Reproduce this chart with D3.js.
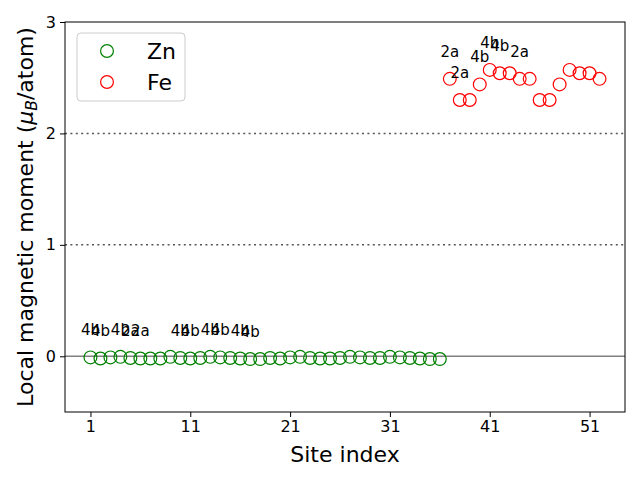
<!DOCTYPE html>
<html>
<head>
<meta charset="utf-8">
<script src="https://cdn.jsdelivr.net/npm/d3@7"></script>
<style>
  body { margin: 0; background: #fff; }
  text { font-family: "DejaVu Sans", sans-serif; }
</style>
</head>
<body>
<svg id="chart" width="640" height="480"></svg>
<script>
// ---- data ----
const znSites = d3.range(1, 37);
const znValues = [-0.01, -0.02, -0.01, -0.005, -0.015, -0.02, -0.02, -0.02, -0.005, -0.015,
  -0.02, -0.015, -0.005, -0.01, -0.015, -0.02, -0.025, -0.025, -0.015, -0.02,
  -0.01, -0.005, -0.015, -0.02, -0.02, -0.015, -0.005, -0.01, -0.015, -0.015,
  -0.005, -0.01, -0.015, -0.02, -0.025, -0.025];
const feSites = d3.range(37, 53);
const feValues = [2.49, 2.30, 2.30, 2.44, 2.57, 2.54, 2.54, 2.49,
  2.49, 2.30, 2.30, 2.44, 2.57, 2.54, 2.54, 2.49];
const labelSites = [1, 2, 4, 5, 6, 10, 11, 13, 14, 16, 17, 37, 38, 40, 41, 42, 44];
const labelTexts = ["4b", "4b", "4b", "2a", "2a", "4b", "4b", "4b", "4b", "4b", "4b",
  "2a", "2a", "4b", "4b", "4b", "2a"];
const xTicks = [1, 11, 21, 31, 41, 51];
const yTicks = [0, 1, 2, 3];
const refLines = [1, 2];
const seriesNames = ["Zn", "Fe"];
const seriesColors = ["green", "red"];

// ---- layout ----
const svg = d3.select("#chart");
const L = 65, R = 625, T = 22, B = 412;
const x = d3.scaleLinear().domain([-1.55, 54.55]).range([L, R]);
const y = d3.scaleLinear().domain([-0.5, 3]).range([B, T]);

const allVal = {};
znSites.forEach((s, i) => allVal[s] = znValues[i]);
feSites.forEach((s, i) => allVal[s] = feValues[i]);

// reference lines
svg.selectAll(".ref").data(refLines).enter().append("line")
  .attr("x1", L).attr("x2", R)
  .attr("y1", d => y(d)).attr("y2", d => y(d))
  .attr("stroke", "#555").attr("stroke-width", 1.5)
  .attr("stroke-dasharray", "2,3.4");
svg.append("line")
  .attr("x1", L).attr("x2", R).attr("y1", y(0)).attr("y2", y(0))
  .attr("stroke", "gray").attr("stroke-width", 1.5);

// points
const r = 6.4;
svg.selectAll(".zn").data(znSites).enter().append("circle")
  .attr("cx", d => x(d)).attr("cy", (d, i) => y(znValues[i])).attr("r", r)
  .attr("fill", "none").attr("stroke", seriesColors[0]).attr("stroke-width", 1.2);
svg.selectAll(".fe").data(feSites).enter().append("circle")
  .attr("cx", d => x(d)).attr("cy", (d, i) => y(feValues[i])).attr("r", r)
  .attr("fill", "none").attr("stroke", seriesColors[1]).attr("stroke-width", 1.2);

// annotations
svg.selectAll(".lab").data(labelSites).enter().append("text")
  .attr("x", d => x(d)).attr("y", d => y(allVal[d] + 0.2))
  .attr("text-anchor", "middle").attr("font-size", 15).attr("fill", "black")
  .text((d, i) => labelTexts[i]);

// axes
const xAxis = svg.append("g").attr("transform", `translate(0,${B})`)
  .call(d3.axisBottom(x).tickValues(xTicks).tickFormat(d3.format("d")).tickSize(5).tickPadding(4).tickSizeOuter(0));
const yAxis = svg.append("g").attr("transform", `translate(${L},0)`)
  .call(d3.axisLeft(y).tickValues(yTicks).tickFormat(d3.format("d")).tickSize(5).tickPadding(4).tickSizeOuter(0));
[xAxis, yAxis].forEach(g => {
  g.select(".domain").remove();
  g.selectAll("text").attr("font-size", 16).attr("font-family", "DejaVu Sans").attr("fill", "black");
  g.selectAll("line").attr("stroke", "black").attr("stroke-width", 1);
});

// frame
svg.append("rect").attr("x", L).attr("y", T).attr("width", R - L).attr("height", B - T)
  .attr("fill", "none").attr("stroke", "black").attr("stroke-width", 1);

// axis labels
svg.append("text").attr("x", (L + R) / 2).attr("y", 462).attr("text-anchor", "middle")
  .attr("font-size", 22).text("Site index");
const yl = svg.append("text").attr("transform", `translate(33,${(T + B) / 2}) rotate(-90)`)
  .attr("text-anchor", "middle").attr("font-size", 22);
yl.append("tspan").text("Local magnetic moment (");
yl.append("tspan").attr("font-style", "italic").text("μ");
yl.append("tspan").attr("font-style", "italic").attr("font-size", 15.5).attr("dy", 4).text("B");
yl.append("tspan").attr("dy", -4).text("/atom)");

// legend
const lg = svg.append("g");
lg.append("rect").attr("x", 77).attr("y", 33).attr("width", 108).attr("height", 68)
  .attr("rx", 4).attr("fill", "white").attr("fill-opacity", 0.8)
  .attr("stroke", "#cccccc").attr("stroke-width", 1);
seriesNames.forEach((n, i) => {
  const cy = 51 + i * 31;
  lg.append("circle").attr("cx", 107).attr("cy", cy).attr("r", r)
    .attr("fill", "none").attr("stroke", seriesColors[i]).attr("stroke-width", 1.2);
  lg.append("text").attr("x", 147).attr("y", cy).attr("dy", "0.36em")
    .attr("font-size", 22).text(n);
});
</script>
</body>
</html>
